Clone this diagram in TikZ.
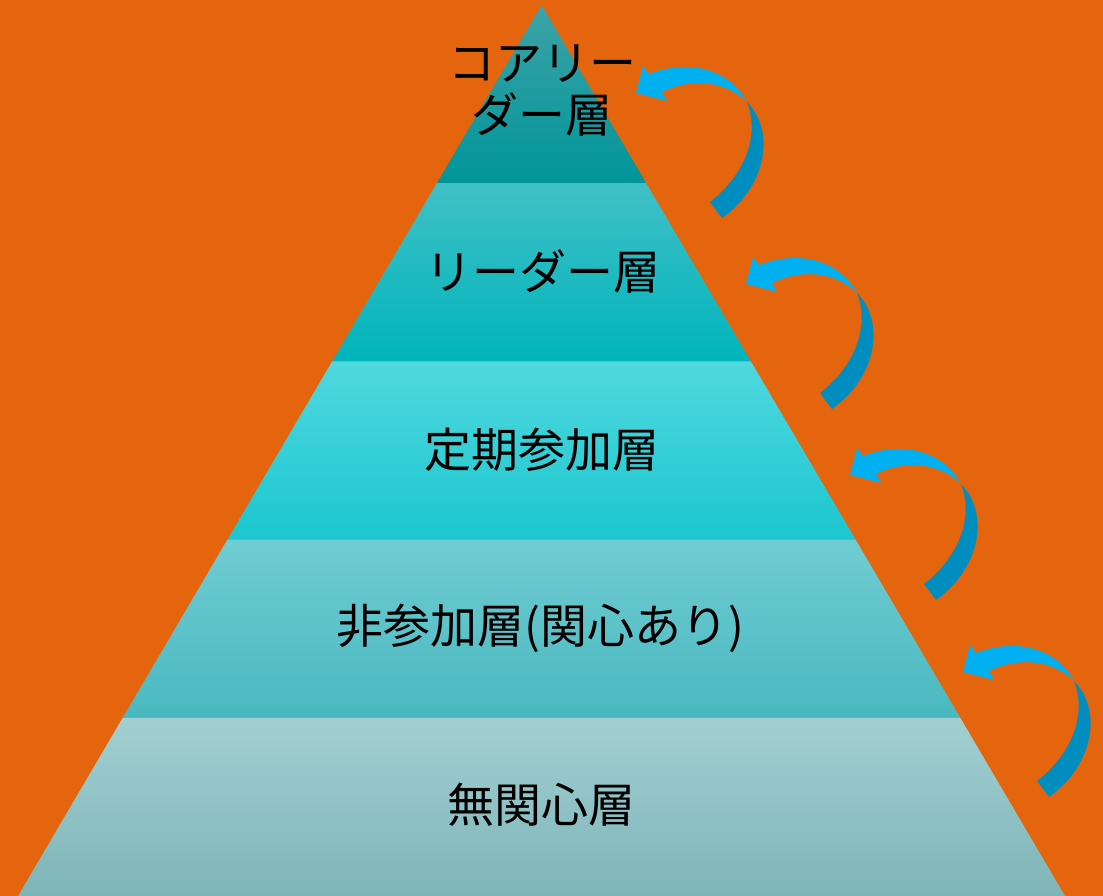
\documentclass[tikz,border=0pt]{standalone}
\usepackage{fontspec}
\newfontfamily\jp{Noto Sans CJK JP}
\definecolor{bg}{HTML}{E4650E}
\definecolor{aT}{HTML}{3DA3A6}\definecolor{aB}{HTML}{00959A}
\definecolor{bT}{HTML}{40C0C6}\definecolor{bB}{HTML}{00B4BC}
\definecolor{cT}{HTML}{50D8DE}\definecolor{cB}{HTML}{1CC6D0}
\definecolor{dT}{HTML}{70CCD2}\definecolor{dB}{HTML}{4AB8C0}
\definecolor{eT}{HTML}{A2CFD2}\definecolor{eB}{HTML}{7EB5B8}
\definecolor{arL}{HTML}{00B0F0}\definecolor{arD}{HTML}{008DC0}
\begin{document}
\begin{tikzpicture}[x=1pt,y=-1pt,
  lbl/.style={font=\jp\fontsize{47}{52}\selectfont, text=black, align=center, inner sep=0pt},
  arlight/.style={fill=arL, draw=none},
  ardark/.style={fill=arD, draw=none}]
\useasboundingbox (0,0) rectangle (1103,896);
\fill[bg] (0,0) rectangle (1103,896);
% layers
\shade[top color=aT, bottom color=aB] (541.5,5) -- (646.2,183.2) -- (436.8,183.2) -- cycle;
\shade[top color=bT, bottom color=bB] (436.8,183.2) -- (646.2,183.2) -- (750.9,361.4) -- (332.1,361.4) -- cycle;
\shade[top color=cT, bottom color=cB] (332.1,361.4) -- (750.9,361.4) -- (855.6,539.6) -- (227.4,539.6) -- cycle;
\shade[top color=dT, bottom color=dB] (227.4,539.6) -- (855.6,539.6) -- (960.3,717.8) -- (122.7,717.8) -- cycle;
\shade[top color=eT, bottom color=eB] (122.7,717.8) -- (960.3,717.8) -- (1065,896) -- (18,896) -- cycle;
% labels
\node[lbl] (l1) at (542,91) {コアリー\\ダー層};
\node[lbl] (l2) at (543,271) {リーダー層};
\node[lbl] (l3) at (542,450) {定期参加層};
\node[lbl] (l4) at (540,628) {非参加層(関心あり)};
\node[lbl] (l5) at (541,805) {無関心層};
% arrows
\foreach \dx/\dy in {0/0, 110/191, 214/382, 327/579}{
  \begin{scope}[shift={(\dx,\dy)}]
    \fill[ardark] (747,102) .. controls (775,130) and (768,185) .. (722,218)
      -- (710,202) .. controls (745,175) and (760,135) .. (747,102) -- cycle;
    \fill[arlight] (649,74) .. controls (690,58) and (730,70) .. (747,102)
      .. controls (725,80) and (690,78) .. (662,92)
      -- (667,101) -- (636,93) -- (643,66) -- cycle;
  \end{scope}
}
\end{tikzpicture}
\end{document}
